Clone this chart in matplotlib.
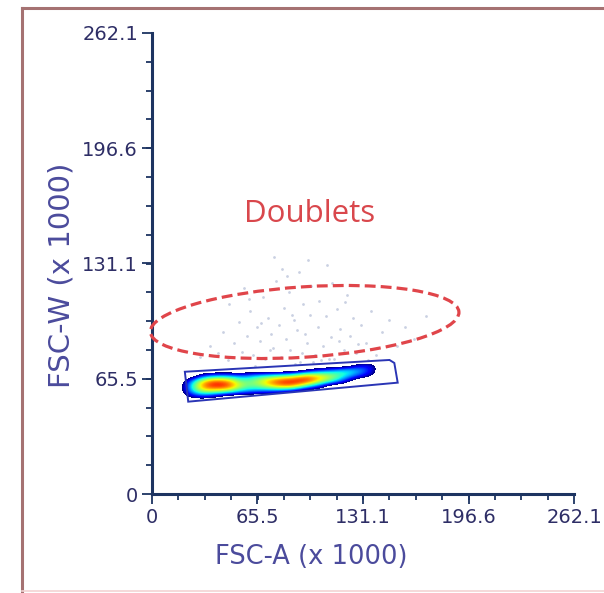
import numpy as np
import matplotlib.pyplot as plt
from matplotlib.patches import Ellipse, Polygon
from matplotlib.lines import Line2D
from matplotlib.ticker import MultipleLocator

ticks = [0, 65.5, 131.1, 196.6, 262.1]
tick_labels = ['0', '65.5', '131.1', '196.6', '262.1']

# singlet population, density (0 = empty, 1 = red)
grid_x = [16, 24, 32, 40, 48, 56, 64, 72, 80, 88, 96, 104, 112, 120, 128, 136, 144]
grid_y = [76, 73, 70, 67, 64, 61, 58, 55, 52]
density = [
    [0, 0, 0, 0, 0, 0, 0, 0, 0, 0, 0, 0, 0, 0, 0, 0, 0],
    [0, 0, 0, 0, 0, 0, 0, 0, 0, 0, 0, 0, 0, 0, .22, .28, 0],
    [0, 0, 0, 0, 0, 0, 0, 0, 0, 0, .15, .30, .38, .50, .45, .30, 0],
    [0, 0, .30, .40, .40, .35, .45, .50, .55, .62, .80, .75, .65, .50, .35, .20, 0],
    [0, .35, .75, .88, .80, .55, .60, .78, .92, .95, .95, .72, .55, .30, 0, 0, 0],
    [0, .45, .85, .95, .90, .62, .55, .68, .80, .80, .50, .30, 0, 0, 0, 0, 0],
    [0, .40, .65, .60, .55, .40, .35, .30, .25, .15, 0, 0, 0, 0, 0, 0, 0],
    [0, .20, .25, .15, 0, 0, 0, 0, 0, 0, 0, 0, 0, 0, 0, 0, 0],
    [0, 0, 0, 0, 0, 0, 0, 0, 0, 0, 0, 0, 0, 0, 0, 0, 0],
]

# singlet gate
gate_x = [20.4, 147.5, 150.5, 152.6, 22.5]
gate_y = [69.5, 76.2, 74.5, 63.3, 52.5]

# sparse doublet events
doublet_x = [30, 36, 41, 44, 47, 51, 54, 56, 59, 61, 63, 65, 67, 69, 70, 72, 74, 75, 77, 79,
             80, 82, 83, 85, 86, 88, 90, 91, 93, 94, 96, 98, 99, 101, 103, 104, 106, 108, 109, 111,
             113, 115, 117, 119, 121, 123, 125, 127, 130, 133, 136, 139, 143, 147, 152, 157, 163, 170, 48, 57,
             64, 73, 81, 89, 97, 105, 112, 120, 128, 76, 92, 110, 68, 84, 100, 116, 60, 87, 134, 95]
doublet_y = [78, 84, 80, 92, 76, 86, 98, 81, 90, 104, 79, 95, 87, 112, 77, 100, 91, 83, 121, 96,
             78, 106, 88, 115, 82, 99, 93, 126, 80, 108, 86, 102, 118, 79, 95, 110, 84, 101, 130, 89,
             77, 105, 94, 82, 113, 90, 100, 80, 96, 86, 104, 79, 92, 99, 84, 95, 88, 101, 108, 117,
             73, 82, 128, 74, 133, 76, 120, 109, 85, 135, 75, 77, 97, 124, 75, 87, 111, 102, 76, 91]

# doublet gate (ellipse)
doublet_center = (94.8, 97.8)
doublet_width = 192
doublet_height = 40
doublet_angle = 3.4

fig = plt.figure(figsize=(6.04, 5.93), dpi=100)
ax = fig.add_axes([152/604, 1-494/593, (574-152)/604, (494-33)/593])

navy = '#1d3461'
lab_col = '#4b4b9c'
tick_col = '#2e2e66'

ax.scatter(doublet_x, doublet_y, s=4, color='#b4bdd6', alpha=0.7, linewidths=0, zorder=1)

cmap = plt.get_cmap('jet').copy()
cmap.set_under((1, 1, 1, 0))
dx = (grid_x[1]-grid_x[0])/2
dy = (grid_y[0]-grid_y[1])/2
ax.imshow(np.array(density), cmap=cmap, vmin=0.17, vmax=1, origin='upper', aspect='auto',
          interpolation='bicubic', interpolation_stage='data',
          extent=[grid_x[0]-dx, grid_x[-1]+dx, grid_y[-1]-dy, grid_y[0]+dy], zorder=2)

ax.add_patch(Polygon(list(zip(gate_x, gate_y)), closed=True, fill=False,
                     edgecolor='#2a35b5', lw=1.4, zorder=3))
ax.add_patch(Ellipse(doublet_center, doublet_width, doublet_height, angle=doublet_angle,
                     fill=False, edgecolor='#e0454a', lw=2.3, linestyle=(0, (3.4, 1.6)),
                     clip_on=False, zorder=4))
ax.text(97.9, 159.2, 'Doublets', color='#d9474c', fontsize=22.5, family='Open Sans',
        ha='center', va='center')

ax.set_xlim(0, 262.1)
ax.set_ylim(0, 262.1)
ax.set_xticks(ticks)
ax.set_xticklabels(tick_labels)
ax.set_yticks(ticks)
ax.set_yticklabels(tick_labels)
ax.xaxis.set_minor_locator(MultipleLocator(262.1/16))
ax.yaxis.set_minor_locator(MultipleLocator(262.1/16))
for s in ['top', 'right']:
    ax.spines[s].set_visible(False)
for s in ['left', 'bottom']:
    ax.spines[s].set_color(navy)
    ax.spines[s].set_linewidth(2.2)
ax.tick_params(which='major', length=7, width=1.3, color=navy, labelsize=14, labelcolor=tick_col, pad=3)
ax.tick_params(which='minor', length=4, width=1.3, color=navy)
ax.set_xlabel('FSC-A (x 1000)', fontsize=18.5, color=lab_col, labelpad=0)
ax.set_ylabel('FSC-W (x 1000)', fontsize=21, color=lab_col, labelpad=0)
ax.xaxis.set_label_coords(0.377, -0.108)
ax.yaxis.set_label_coords(-0.182, 0.475)

# frame of the panel
fig.add_artist(Line2D([22/604, 22/604], [0, 1-8/593], color='#a57272', lw=2.2))
fig.add_artist(Line2D([22/604, 1], [1-8/593, 1-8/593], color='#a57272', lw=2.2))
fig.add_artist(Line2D([22/604, 1], [2/593, 2/593], color='#f3d3d3', lw=1.2))

fig.savefig('out.png', dpi=100)
